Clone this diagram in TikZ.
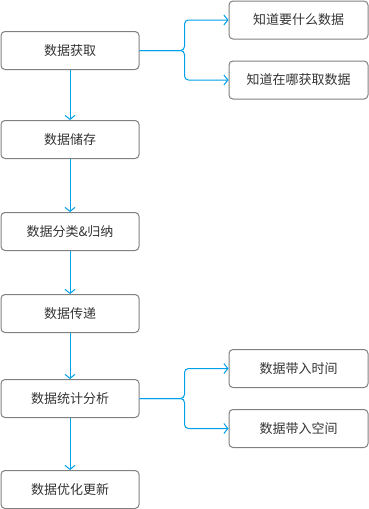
\documentclass[tikz,border=0pt]{standalone}
\usepackage{fontspec}
\usepackage{xcolor}
\usepackage{tikz}
\usetikzlibrary{positioning, calc, arrows.meta}
\newfontfamily\cjk{Noto Sans CJK SC}
\definecolor{FlowColor}{HTML}{00A0E9}
\definecolor{BoxBorder}{HTML}{808080}
\definecolor{BoxText}{HTML}{333333}
\tikzset{
    block/.style={
        rectangle,
        rounded corners=4pt,
        minimum height=38pt,
        minimum width=138pt,
        inner sep=0pt,
        align=center,
        draw=BoxBorder,
        line width=1pt,
        text=BoxText,
        font=\cjk\fontsize{13pt}{15pt}\selectfont
    },
    main/.style={block},
    side/.style={block, minimum width=139pt},
    arrow/.style={-{Straight Barb[length=4pt,width=10pt]}, line width=1pt, draw=FlowColor},
    branch/.style={arrow, rounded corners=4pt}
}
\begin{document}
\begin{tikzpicture}[x=1pt, y=-1pt]

\useasboundingbox (0,0) rectangle (368,509);

% Main column
\coordinate (col1) at (70, 50.5);

\node[main] (n_get) at (col1) {数据获取};
\node[main, below=50pt of n_get] (n_store) {数据储存};
\node[main, below=53pt of n_store] (n_sort) {数据分类\&归纳};
\node[main, below=43pt of n_sort] (n_pass) {数据传递};
\node[main, below=46pt of n_pass] (n_stat) {数据统计分析};
\node[main, below=52pt of n_stat] (n_opt) {数据优化更新};

% Side column
\node[side, anchor=west] (n_what) at ($(n_get.east)+(89,-30.5)$) {知道要什么数据};
\node[side, anchor=west] (n_where) at ($(n_get.east)+(89,29.5)$) {知道在哪获取数据};
\node[side, anchor=west] (n_time) at ($(n_stat.east)+(89,-30)$) {数据带入时间};
\node[side, anchor=west] (n_space) at ($(n_stat.east)+(89,30)$) {数据带入空间};

% Arrows (main flow)
\draw[arrow] (n_get) -- (n_store);
\draw[arrow] (n_store) -- (n_sort);
\draw[arrow] (n_sort) -- (n_pass);
\draw[arrow] (n_pass) -- (n_stat);
\draw[arrow] (n_stat) -- (n_opt);

% Arrows (branches)
\draw[branch] (n_get.east) -- ++(45,0) |- (n_what.west);
\draw[branch] (n_get.east) -- ++(45,0) |- (n_where.west);
\draw[branch] (n_stat.east) -- ++(45,0) |- (n_time.west);
\draw[branch] (n_stat.east) -- ++(45,0) |- (n_space.west);

\end{tikzpicture}
\end{document}
